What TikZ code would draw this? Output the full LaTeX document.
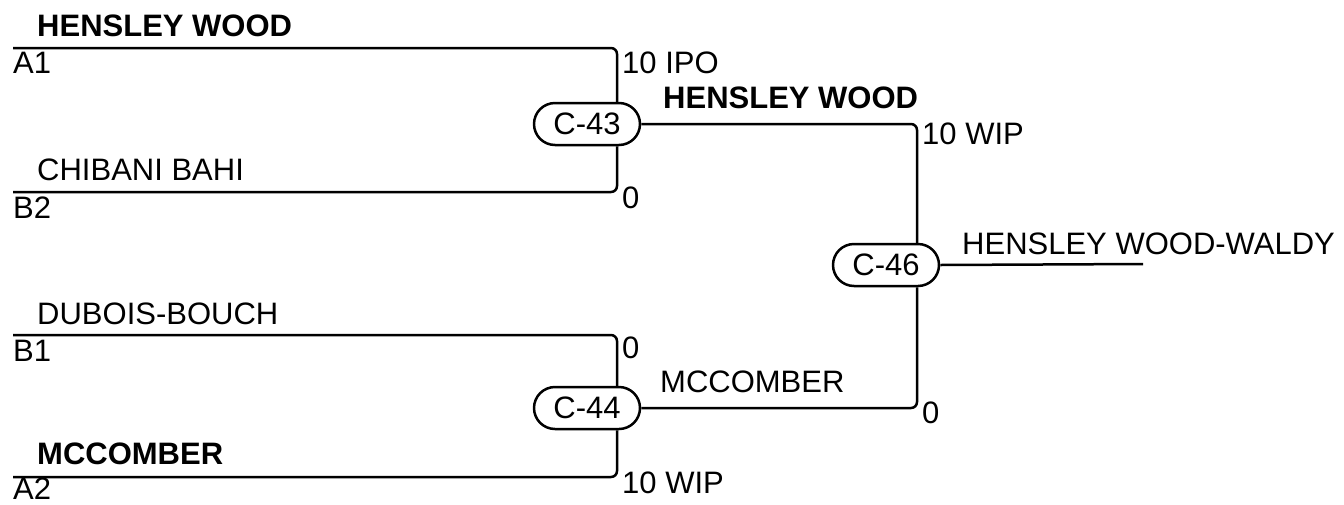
\documentclass[tikz,border=0pt]{standalone}
\usepackage{fontspec}
\setmainfont{Liberation Sans}
\usetikzlibrary{positioning}

\begin{document}
\begin{tikzpicture}[x=1pt,y=-1pt,
                   every node/.style={font=\fontsize{31}{36}\selectfont, inner sep=0pt},
                   match/.style={draw, line width=2.5pt, rounded corners=21pt, minimum width=106pt, minimum height=42pt},
                   wire/.style={line width=2.5pt, rounded corners=6pt},
                   team/.style={anchor=base west},
                   winner/.style={team, font=\fontsize{31}{36}\selectfont\bfseries}]
\useasboundingbox (0,0) rectangle (1344,504);
% matches
\node[match] (c43) at (587,124) {C-43};
\node[match] (c44) at (587,408) {C-44};
\node[match] (c46) at (886,265) {C-46};
% entries
\coordinate (a1) at (13,48);
\coordinate (b2) at (13,192);
\coordinate (b1) at (13,335);
\coordinate (a2) at (13,477);
\coordinate (fin) at (1143,264);
% lines
\draw[wire] (a1) -| ([xshift=30pt]c43.north);
\draw[wire] (b2) -| ([xshift=30pt]c43.south);
\draw[wire] (b1) -| ([xshift=30pt]c44.north);
\draw[wire] (a2) -| ([xshift=30pt]c44.south);
\draw[wire] (c43.east) -| ([xshift=31pt]c46.north);
\draw[wire] (c44.east) -| ([xshift=31pt]c46.south);
\draw[wire] (c46.east) -- (fin);
% names
\node[winner] (n1) at (37,36) {HENSLEY WOOD};
\node[team] (s1) at (13,73) {A1};
\node[team] (n2) at (37,180) {CHIBANI BAHI};
\node[team] (s2) at (13,218) {B2};
\node[team] (n3) at (37,324) {DUBOIS-BOUCH};
\node[team] (s3) at (13,361) {B1};
\node[winner] (n4) at (37,464) {MCCOMBER};
\node[team] (s4) at (13,499) {A2};
\node[winner] (w43) at (663,108) {HENSLEY WOOD};
\node[team] (w44) at (660,392) {MCCOMBER};
\node[team] (w46) at (962,254) {HENSLEY WOOD-WALDY};
% scores
\node[team] (p1) at (622,73) {10 IPO};
\node[team] (p2) at (622,208) {0};
\node[team] (p3) at (622,358) {0};
\node[team] (p4) at (622,493) {10 WIP};
\node[team] (p5) at (922,144) {10 WIP};
\node[team] (p6) at (922,423) {0};
\end{tikzpicture}
\end{document}
